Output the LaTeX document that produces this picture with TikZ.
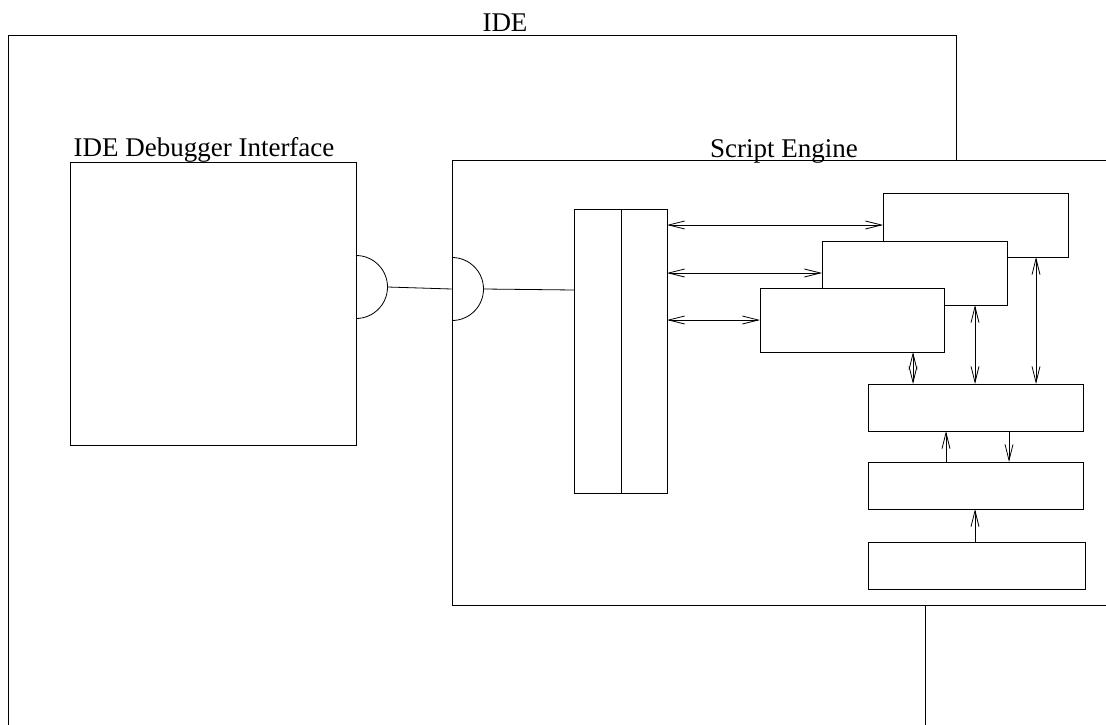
\documentclass[tikz,border=0pt]{standalone}
\usepackage{fontspec}
\setmainfont{Liberation Serif}
\usetikzlibrary{arrows.meta,calc}

\tikzset{
  blk/.style={draw, fill=white, anchor=north west, inner sep=0pt, outer sep=0pt},
  lbl/.style={anchor=base, inner sep=0pt, font=\fontsize{27}{32}\selectfont},
  link/.style={<->},
}

\begin{document}
\begin{tikzpicture}[x=1pt, y=-1pt, line width=0.8pt,
    >={Straight Barb[length=16pt,width=8pt]}]
    \useasboundingbox (0,0) rectangle (1106,725);
    \clip (0,0) rectangle (1106,725);
    % outer IDE frame
    \coordinate (ideNW) at (8,35);
    \node [lbl] (ideLbl) at (505,32) {IDE};
    \draw (956,160) -- (956,35) -- (ideNW) -- (8,740);
    % debugger side
    \node [blk, minimum width=286pt, minimum height=283pt] (dbg) at (70,162) {};
    \node [lbl] (dbgLbl) at (204,156) {IDE Debugger Interface};
    \coordinate (dbgPort) at (356,287);
    \draw ([yshift=31.5pt]dbgPort) arc[start angle=90, end angle=-90, radius=31.5pt];
    % script engine
    \node [blk, minimum width=680pt, minimum height=445pt] (se) at (452,160) {};
    \node [lbl] (seLbl) at (784,157) {Script Engine};
    \draw (925,605) -- (925,740);
    \coordinate (sePort) at (452,289);
    \draw ([yshift=31.5pt]sePort) arc[start angle=90, end angle=-90, radius=31.5pt];
    \draw ([xshift=31.5pt]dbgPort) -- ([xshift=-0.4pt]sePort);
    % tall boxes
    \node [blk, minimum width=47pt, minimum height=284pt] (stkL) at (574,209) {};
    \node [blk, minimum width=46pt, minimum height=284pt] (stkR) at (621,209) {};
    \draw ([xshift=31.5pt]sePort) -- (stkL.west |- 0,290);
    % stacked boxes
    \node [blk, minimum width=185pt, minimum height=64pt] (ctxC) at (883,193) {};
    \node [blk, minimum width=185pt, minimum height=64pt] (ctxB) at (822,241) {};
    \node [blk, minimum width=184pt, minimum height=64pt] (ctxA) at (760,288) {};
    % lower boxes
    \node [blk, minimum width=215pt, minimum height=47pt] (engA) at (868,384) {};
    \node [blk, minimum width=215pt, minimum height=47pt] (engB) at (868,462) {};
    \node [blk, minimum width=217pt, minimum height=47pt] (engC) at (868,542) {};
    % connectors
    \foreach \c in {ctxA, ctxB, ctxC}
        \draw [link] (stkR.east |- \c.west) -- (\c.west);
    \foreach \c in {ctxA, ctxB, ctxC}
        \draw [link] ([xshift=153pt]\c.south west) -- ([xshift=153pt]\c.south west |- engA.north);
    \draw [->] ([xshift=78pt]engB.north west) -- ([xshift=78pt]engA.south west);
    \draw [->] ([xshift=141pt]engA.south west) -- ([xshift=141pt]engB.north west);
    \draw [->] ([xshift=107pt]engC.north west) -- ([xshift=107pt]engB.south west);
\end{tikzpicture}
\end{document}
